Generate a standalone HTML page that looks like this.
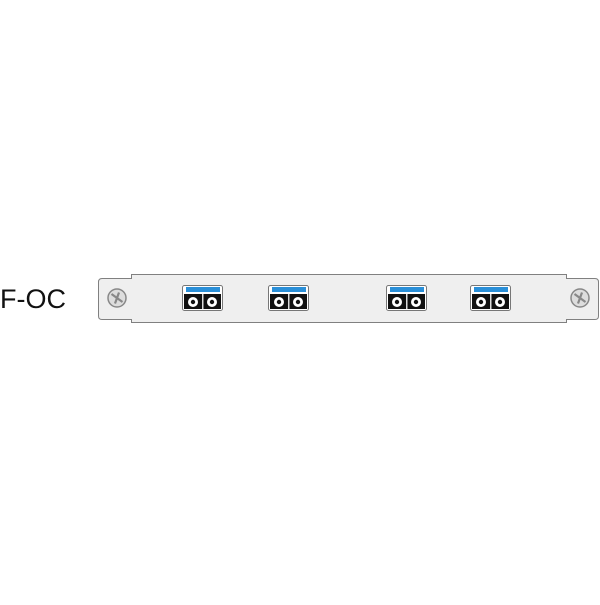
<!DOCTYPE html>
<html><head><style>body{margin:0;background:#fff;width:600px;height:600px;overflow:hidden}</style></head>
<body>
<svg width="600" height="600" xmlns="http://www.w3.org/2000/svg">
<text x="0" y="308" font-family="Liberation Sans, sans-serif" font-size="27" fill="#111">F-OC</text>
<path d="M131.5,274.5 H566.5 V278.5 H595 Q598.5,278.5 598.5,282 V316 Q598.5,319.5 595,319.5 H566.5 V322.5 H131.5 V319.5 H102 Q98.5,319.5 98.5,316 V282 Q98.5,278.5 102,278.5 H131.5 Z" fill="#efefef" stroke="#808080" stroke-width="1"/>
<g>
<circle cx="117" cy="298" r="9" fill="#ddd" stroke="#888" stroke-width="1.5"/>
<path d="M111.5,294 L122.5,302 M119,292.5 L115,303.5" stroke="#888" stroke-width="2.2"/>
</g>
<g transform="translate(463,0)"><circle cx="117" cy="298" r="9" fill="#ddd" stroke="#888" stroke-width="1.5"/><path d="M111.5,294 L122.5,302 M119,292.5 L115,303.5" stroke="#888" stroke-width="2.2"/></g>
<defs><g id="c">
<rect x="182.5" y="285.5" width="40" height="25" rx="2" fill="#fff" stroke="#777"/>
<rect x="186" y="287" width="34" height="5" fill="#2a8fd8"/>
<rect x="184" y="294" width="37" height="15" fill="#111"/>
<rect x="202" y="294" width="1.5" height="15" fill="#ddd"/>
<circle cx="193" cy="302" r="5" fill="#fff"/><circle cx="193" cy="302" r="2.2" fill="#111"/>
<circle cx="212" cy="302" r="5" fill="#fff"/><circle cx="212" cy="302" r="2.2" fill="#111"/>
</g></defs>
<use href="#c"/>
<use href="#c" transform="translate(86,0)"/>
<use href="#c" transform="translate(204,0)"/>
<use href="#c" transform="translate(288,0)"/>
</svg>
</body></html>
